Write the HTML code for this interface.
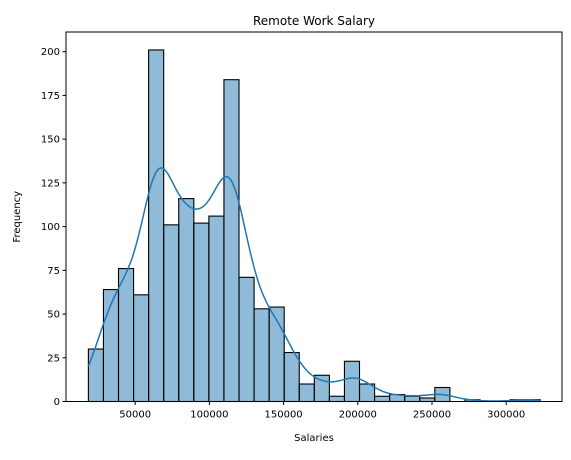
<!DOCTYPE html>
<html><head><meta charset="utf-8"><style>
body{margin:0;background:#fff}
text{font-family:"DejaVu Sans","Liberation Sans",sans-serif;fill:#000}
</style></head><body>
<svg id="c" width="571" height="455"></svg>
<script>
const binStart = 18450;
const binWidth = 10150;
const counts = [30,64,76,61,201,101,116,102,106,184,71,53,54,28,10,15,3,23,10,3,4,3,2,8,0,1,0,0,1,1];
const yTicks = [0,25,50,75,100,125,150,175,200];
const xTicks = [50000,100000,150000,200000,250000,300000];
const L=66,R=562,T=32,B=401.5;
const xs=v=>61+(v)*74.2/50000;
const ys=v=>B-v*(B-51.7)/200;
const ns="http://www.w3.org/2000/svg";
const svg=document.getElementById('c');
function mk(t,a,p){const e=document.createElementNS(ns,t);for(const k in a)e.setAttribute(k,a[k]);(p||svg).appendChild(e);return e;}
const g=mk('g',{});


counts.forEach((c,i)=>{
  const x0=xs(binStart+i*binWidth),x1=xs(binStart+(i+1)*binWidth);
  const r=mk('rect',{x:x0,y:ys(c),width:x1-x0,height:ys(0)-ys(c),fill:'rgba(31,119,180,0.5)',stroke:'#000','stroke-width':1.1},g);
  
  
});
const h=10000;
let d='';const lo=binStart,hi=binStart+counts.length*binWidth;
for(let k=0;k<=300;k++){
  const v=lo+(hi-lo)*k/300;let s=0;
  counts.forEach((c,i)=>{const m=binStart+(i+0.5)*binWidth;const z=(v-m)/h;s+=c*Math.exp(-z*z/2);});
  const dens=s/(h*Math.sqrt(2*Math.PI))*binWidth;
  d+=(k?'L':'M')+xs(v).toFixed(1)+','+ys(dens).toFixed(1);
}
const kde=mk('path',{d:d,fill:'none',stroke:'#1f77b4','stroke-width':1.5});


const ax=mk('rect',{x:L,y:T,width:R-L,height:B-T,fill:'none',stroke:'#000','stroke-width':1});


yTicks.forEach(t=>{
  mk('line',{x1:L-3.5,x2:L,y1:ys(t),y2:ys(t),stroke:'#000'});
  const tx=mk('text',{x:L-6,y:ys(t)+3.5,'text-anchor':'end','font-size':10});
  tx.textContent=t;
  
  
});
xTicks.forEach(t=>{
  mk('line',{x1:xs(t),x2:xs(t),y1:B,y2:B+3.5,stroke:'#000'});
  const tx=mk('text',{x:xs(t),y:B+16,'text-anchor':'middle','font-size':10});
  tx.textContent=t;
  
  
});
const ti=mk('text',{x:(L+R)/2,y:T-7,'text-anchor':'middle','font-size':12});ti.textContent='Remote Work Salary';


const xl=mk('text',{x:(L+R)/2,y:441,'text-anchor':'middle','font-size':10});xl.textContent='Salaries';


const yl=mk('text',{x:0,y:0,'text-anchor':'middle','font-size':10,transform:'translate(20,'+((T+B)/2)+') rotate(-90)'});yl.textContent='Frequency';


</script>
</body></html>
